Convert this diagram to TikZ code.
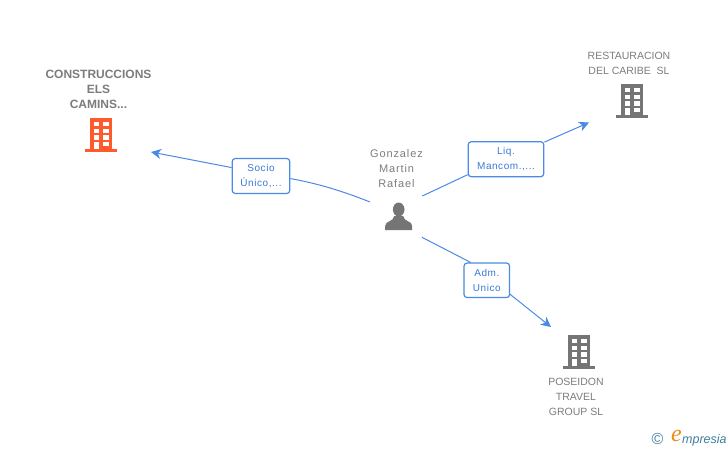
\documentclass[tikz,border=0pt]{standalone}
\usepackage{fontspec}
\setmainfont{Liberation Sans}
\newfontfamily\logoserif{Liberation Serif}
\usetikzlibrary{arrows.meta}
\definecolor{linkblue}{HTML}{4A8AE4}
\definecolor{textblue}{HTML}{3A78D8}
\definecolor{icongray}{HTML}{757575}
\definecolor{labelgray}{HTML}{7C7C7C}
\definecolor{iconred}{HTML}{FF5A2D}
\definecolor{logoteal}{HTML}{3F7F9F}
\definecolor{logoorange}{HTML}{F08A1D}
\tikzset{
  linkline/.style={draw=linkblue,line width=1pt},
  arrowline/.style={linkline,-{Stealth[length=10pt,width=10pt,inset=3pt]}},
  rolebox/.style={draw=linkblue,line width=1.2pt,rounded corners=3pt,fill=white,
    text=textblue,align=center,inner sep=0pt,
    execute at begin node={\rule{0pt}{9pt}},
    font=\fontsize{10}{15.5}\selectfont\addfontfeature{LetterSpace=5.5}},
  firmlabel/.style={text=labelgray,align=center,inner sep=0pt,
    font=\fontsize{10.5}{15}\selectfont},
  pics/buildingicon/.style={code={
    \fill[#1] (-11,-32) rectangle (11,0);
    \fill[#1] (-16,-1.5) rectangle (16,1.5);
    \foreach \wy in {-28,-21.3,-14.6} {
      \fill[white] (-7.2,\wy) rectangle (-2.5,\wy+4.3);
      \fill[white] (2.1,\wy) rectangle (7.5,\wy+4.3);
    }
    \fill[white] (-7.2,-8.3) rectangle (-2.5,-0.7);
    \fill[white] (2.1,-8.3) rectangle (7.5,-3.8);
  }},
}
\begin{document}
\begin{tikzpicture}[x=1pt,y=-1pt]
  \useasboundingbox (0,0) rectangle (728,450);

  % firms
  \pic at (101,150) {buildingicon=iconred};
  \node[firmlabel,font=\fontsize{12}{15}\selectfont\bfseries] (construcciones) at (98.5,89) {CONSTRUCCIONS\\ELS\\CAMINS...};
  \pic at (632,116) {buildingicon=icongray};
  \node[firmlabel] (restauracion) at (629,63) {RESTAURACION\\DEL CARIBE\ \ SL};
  \pic at (579,367) {buildingicon=icongray};
  \node[firmlabel] (poseidon) at (576,396.5) {POSEIDON\\TRAVEL\\GROUP SL};

  % person
  \node[firmlabel,font=\fontsize{11}{15}\selectfont\addfontfeature{LetterSpace=8}] (gonzalez) at (396.5,169) {Gonzalez\\Martin\\Rafael};
  \begin{scope}[shift={(398.7,230)}]
  \fill[icongray] (0,-20.5) ellipse (5.8 and 7);
  \fill[icongray] (-13.5,0) -- (-13.5,-4) .. controls (-13.5,-9.5) and (-5,-8) .. (-4.5,-14)
    -- (4.5,-14) .. controls (5,-8) and (13.5,-9.5) .. (13.5,-4) -- (13.5,0) -- cycle;
  \end{scope}

  % free ends
  \coordinate (personW) at (370,202);
  \coordinate (personNE) at (422.3,196);
  \coordinate (personSE) at (422,237.3);
  \coordinate (tipConstrucciones) at (151,152);
  \coordinate (tipRestauracion) at (589,122.5);
  \coordinate (tipPoseidon) at (551,327);

  % roles
  \node[rolebox,minimum width=57.5pt,minimum height=35pt] (socio) at (261,176) {Socio\\Único,...};
  \node[rolebox,minimum width=75.5pt,minimum height=35pt] (liq) at (506,159.2) {Liq.\\Mancom.,...};
  \node[rolebox,minimum width=45.5pt,minimum height=34.5pt] (adm) at (486.8,280.3) {Adm.\\Unico};

  \draw[linkline] (personW) .. controls (340,190) and (315,183) .. (socio.-5);
  \draw[arrowline] (socio.164) -- (tipConstrucciones);
  \draw[linkline] (personNE) -- (liq.202);
  \draw[arrowline] (liq.24) -- (tipRestauracion);
  \draw[linkline] (personSE) -- (adm.132);
  \draw[arrowline] (adm.-31.5) -- (tipPoseidon);

  % logo
  \node[text=logoteal,inner sep=0pt,font=\fontsize{16}{16}\selectfont] (copyright) at (657.5,438.5) {©};
  \node[text=logoorange,inner sep=0pt,font=\fontsize{24}{24}\selectfont\logoserif\itshape] (logoe) at (676.5,436) {e};
  \node[text=logoteal,inner sep=0pt,anchor=west,font=\fontsize{12.5}{12}\selectfont\itshape] (logotext) at (682,440) {mpresia};
\end{tikzpicture}
\end{document}
